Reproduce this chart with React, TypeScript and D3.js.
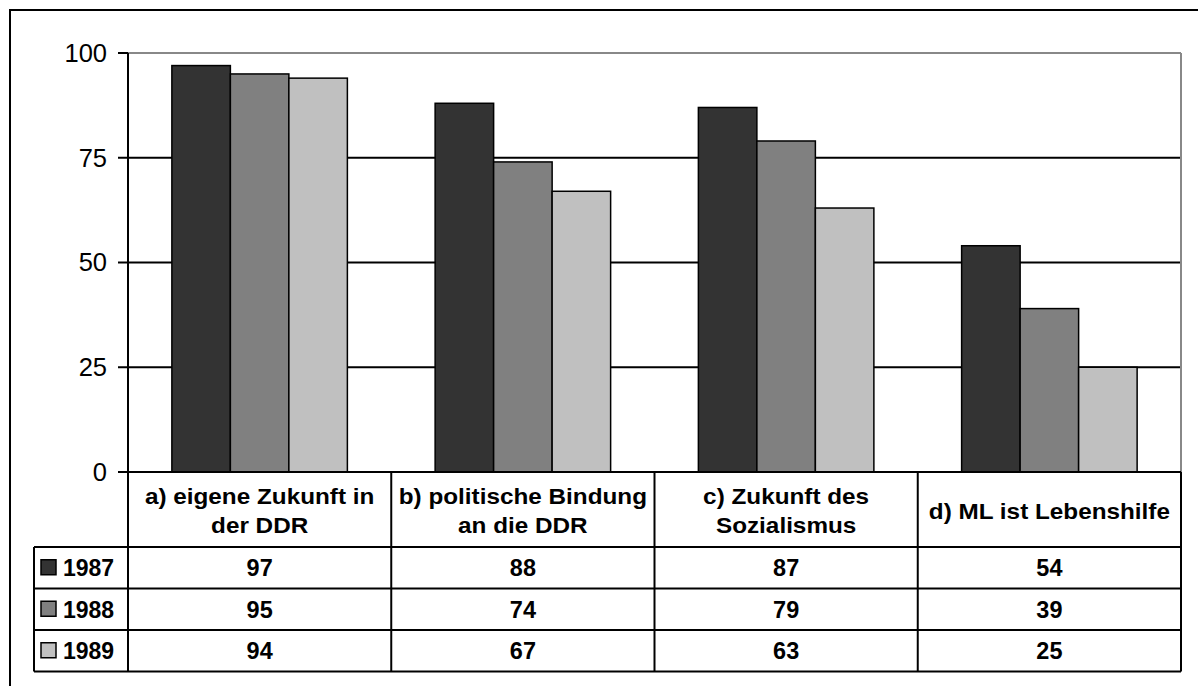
import React from "react";
import * as d3 from "d3";

const categories = ["a", "b", "c", "d"];
const categoryLines: string[][] = [
  ["a) eigene Zukunft in", "der DDR"],
  ["b) politische Bindung", "an die DDR"],
  ["c) Zukunft des", "Sozialismus"],
  ["d) ML ist Lebenshilfe"],
];
const years = ["1987", "1988", "1989"];
const values1987 = [97, 88, 87, 54];
const values1988 = [95, 74, 79, 39];
const values1989 = [94, 67, 63, 25];
const seriesValues = [values1987, values1988, values1989];
const seriesColors = ["#333333", "#808080", "#C0C0C0"];
const yTicks = [0, 25, 50, 75, 100];

const FONT = "'Liberation Sans', Arial, sans-serif";

function SText(props: {
  x: number;
  y: number;
  sx: number;
  anchor: "start" | "middle" | "end";
  size: number;
  bold?: boolean;
  children: React.ReactNode;
}) {
  const { x, y, sx, anchor, size, bold, children } = props;
  return (
    <text
      transform={`translate(${x},${y}) scale(${sx},1)`}
      dy="0.35em"
      textAnchor={anchor}
      fontSize={size}
      fontWeight={bold ? "bold" : "normal"}
      fill="#000"
    >
      {children}
    </text>
  );
}

export default function App() {
  const W = 1198;
  const H = 686;
  const left = 128;
  const right = 1181;
  const top = 53;
  const bottom = 472;
  const legendLeft = 34;
  const headerBottom = 547;
  const rowH = 41.5;

  const x = d3.scaleBand<string>().domain(categories).range([left, right]).paddingInner(0).paddingOuter(0);
  const bw = x.bandwidth();
  const xi = d3.scaleBand<string>().domain(years).range([0, bw]).paddingInner(0).paddingOuter(0.75);
  const y = d3.scaleLinear().domain([0, 100]).range([bottom, top]);

  const rowY = (i: number) => headerBottom + i * rowH;
  const tableBottom = rowY(3);

  return (
    <svg
      width={W}
      height={H}
      style={{ position: "absolute", left: 0, top: 0, background: "#fff" }}
      fontFamily={FONT}
    >
      <rect x={0} y={0} width={W} height={H} fill="#fff" />
      {/* outer frame */}
      <rect x={10} y={10} width={1300} height={800} fill="none" stroke="#000" strokeWidth={2} />

      {/* gridlines */}
      {yTicks.filter((t) => t > 0).map((t) => (
        <line
          key={"g" + t}
          x1={left}
          x2={right}
          y1={y(t)}
          y2={y(t)}
          stroke={t === 100 ? "#888" : "#000"}
          strokeWidth={2}
        />
      ))}
      {/* right plot border */}
      <line x1={right} x2={right} y1={top} y2={bottom} stroke="#888" strokeWidth={2} />

      {/* bars */}
      {categories.map((c, ci) =>
        years.map((yr, si) => {
          const v = seriesValues[si][ci];
          return (
            <rect
              key={c + yr}
              x={(x(c) as number) + (xi(yr) as number)}
              y={y(v)}
              width={xi.bandwidth()}
              height={y(0) - y(v)}
              fill={seriesColors[si]}
              stroke="#000"
              strokeWidth={1.5}
            />
          );
        })
      )}

      {/* y axis */}
      <line x1={left} x2={left} y1={top} y2={bottom} stroke="#000" strokeWidth={2} />
      {yTicks.map((t) => (
        <g key={"t" + t}>
          <line x1={left - 10} x2={left} y1={y(t)} y2={y(t)} stroke="#000" strokeWidth={2} />
          <SText x={107} y={y(t)} sx={1} anchor="end" size={25.5}>
            {t}
          </SText>
        </g>
      ))}

      {/* table */}
      <line x1={left} x2={right} y1={bottom} y2={bottom} stroke="#000" strokeWidth={2} />
      {[0, 1, 2, 3].map((i) => (
        <line key={"h" + i} x1={legendLeft} x2={right} y1={rowY(i)} y2={rowY(i)} stroke="#000" strokeWidth={2} />
      ))}
      <line x1={legendLeft} x2={legendLeft} y1={headerBottom} y2={tableBottom} stroke="#000" strokeWidth={2} />
      {categories.map((c) => (
        <line key={"v" + c} x1={x(c) as number} x2={x(c) as number} y1={bottom} y2={tableBottom} stroke="#000" strokeWidth={2} />
      ))}
      <line x1={right} x2={right} y1={bottom} y2={tableBottom} stroke="#000" strokeWidth={2} />

      {/* header texts */}
      {categories.map((c, ci) => {
        const lines = categoryLines[ci];
        const cx = (x(c) as number) + bw / 2;
        const mid = (bottom + headerBottom) / 2 + 1.5;
        const lh = 29;
        return lines.map((ln, li) => (
          <SText
            key={c + li}
            x={cx}
            y={mid + (li - (lines.length - 1) / 2) * lh}
            sx={1.13}
            anchor="middle"
            size={21.5}
            bold
          >
            {ln}
          </SText>
        ));
      })}

      {/* rows */}
      {years.map((yr, si) => {
        const cy = rowY(si) + rowH / 2;
        return (
          <g key={"r" + yr}>
            <rect x={41} y={cy - 8} width={15} height={15} fill={seriesColors[si]} stroke="#000" strokeWidth={1.5} />
            <SText x={63} y={cy + 0.5} sx={1.0} anchor="start" size={23}>
              <tspan fontWeight="bold">{yr}</tspan>
            </SText>
            {categories.map((c, ci) => (
              <SText
                key={c}
                x={(x(c) as number) + bw / 2}
                y={cy + 0.5}
                sx={1.02}
                anchor="middle"
                size={23}
                bold
              >
                {seriesValues[si][ci]}
              </SText>
            ))}
          </g>
        );
      })}
    </svg>
  );
}
